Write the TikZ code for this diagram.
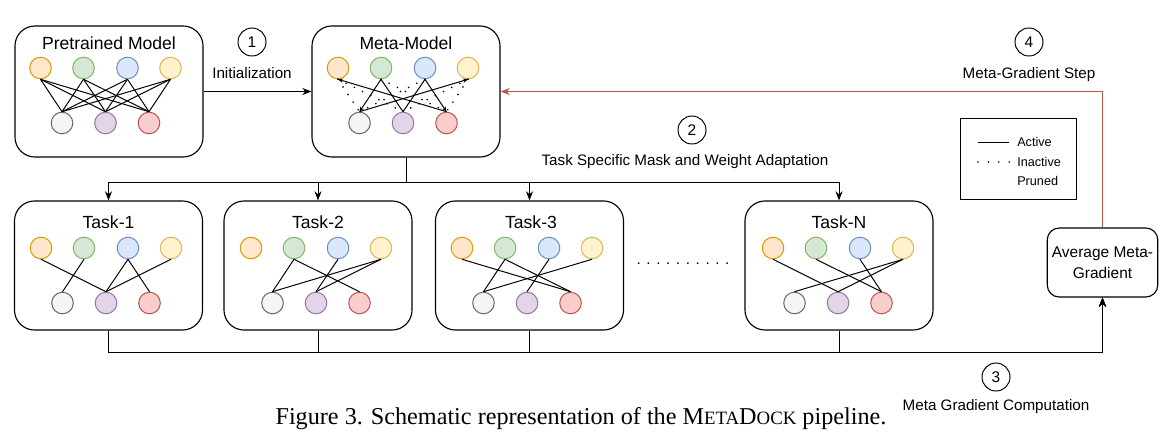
\documentclass[tikz,border=0pt]{standalone}
\usepackage{fontspec}
\setmainfont{Liberation Sans}
\newfontfamily\capfont{Liberation Serif}
\usetikzlibrary{arrows.meta}

\definecolor{OrangeFill}{HTML}{FFE6CC}\definecolor{OrangeLine}{HTML}{D79B00}
\definecolor{GreenFill}{HTML}{D5E8D4}\definecolor{GreenLine}{HTML}{82B366}
\definecolor{BlueFill}{HTML}{DAE8FC}\definecolor{BlueLine}{HTML}{6C8EBF}
\definecolor{YellowFill}{HTML}{FFF2CC}\definecolor{YellowLine}{HTML}{D6B656}
\definecolor{GreyFill}{HTML}{F5F5F5}\definecolor{GreyLine}{HTML}{666666}
\definecolor{PurpleFill}{HTML}{E1D5E7}\definecolor{PurpleLine}{HTML}{9673A6}
\definecolor{RedFill}{HTML}{F8CECC}\definecolor{RedLine}{HTML}{B85450}

\tikzset{
  >={Stealth[length=6.5pt,width=5pt]},
  model/.style={draw, rounded corners=0.5cm, line width=0.8pt, minimum width=4.7cm, minimum height=3.275cm},
  task/.style={model, minimum height=3.225cm},
  title/.style={font=\fontsize{12.5}{15}\selectfont},
  neuron/.style={circle, draw, line width=0.7pt, minimum size=0.54cm, inner sep=0pt},
  stepnum/.style={circle, draw, line width=0.7pt, minimum size=0.7cm, inner sep=0pt, font=\fontsize{11}{13}\selectfont},
  steplabel/.style={font=\fontsize{10.8}{13}\selectfont},
  legend/.style={anchor=west, inner sep=0pt, font=\fontsize{9}{11}\selectfont},
  link/.style={line width=0.7pt},
  pruned/.style={line width=1.3pt, dash pattern=on 0pt off 6.5pt, line cap=round},
  tip/.style={-{Stealth[length=3.5pt,width=3pt]}}
}

\newcommand{\Neurons}[3]{%
  \node (#1O) [neuron, fill=OrangeFill, draw=OrangeLine] at (#2-65,#3) {};
  \node (#1G) [neuron, fill=GreenFill, draw=GreenLine] at (#2-22,#3) {};
  \node (#1B) [neuron, fill=BlueFill, draw=BlueLine] at (#2+22,#3) {};
  \node (#1Y) [neuron, fill=YellowFill, draw=YellowLine] at (#2+65,#3) {};
  \node (#1W) [neuron, fill=GreyFill, draw=GreyLine] at (#2-43.5,#3+55) {};
  \node (#1P) [neuron, fill=PurpleFill, draw=PurpleLine] at (#2,#3+55) {};
  \node (#1R) [neuron, fill=RedFill, draw=RedLine] at (#2+43.5,#3+55) {};
}

\begin{document}
\begin{tikzpicture}[x=0.025cm, y=-0.025cm]
\useasboundingbox (0,0) rectangle (1170,446);

\node (Pretrained) [model] at (109,91.5) {};
\node (PretrainedTitle) [title] at (109,43) {Pretrained Model};
\Neurons{PM}{105.5}{68}
\foreach \a in {O,G,B,Y} \foreach \b in {W,P,R} \draw[link] (PM\a.south) -- (PM\b.north);

\node (Meta) [model] at (406,91.5) {};
\node (MetaTitle) [title] at (406,43) {Meta-Model};
\Neurons{MM}{403}{68}
\draw[link, tip] (MMR.north) -- (MMO.south);
\draw[link, tip] (MMG.south) -- (MMW.north);
\draw[link, tip] (MMW.north) -- (MMY.south);
\draw[link, tip] (MMB.south) -- (MMR.north);
\draw[link] (MMG.south) -- (MMP.north);
\draw[link] (MMB.south) -- (MMP.north);
\foreach \a/\b in {O/W,O/P,G/R,B/W,Y/P,Y/R} \draw[pruned] (MM\a.south) -- (MM\b.north);

\node (StepOne) [stepnum] at (252,42) {1};
\node (Init) [steplabel] at (252,73) {Initialization};
\draw[link, ->] (Pretrained) -- (Meta);

\node (TaskOne) [task] at (108.5,265.5) {};
\node (TaskOneTitle) [title] at (108.5,222) {Task-1};
\Neurons{TA}{106}{248}
\foreach \a/\b in {O/P,G/W,B/P,B/R,Y/P} \draw[link] (TA\a.south) -- (TA\b.north);

\node (TaskTwo) [task] at (318,265.5) {};
\node (TaskTwoTitle) [title] at (318,222) {Task-2};
\Neurons{TB}{316}{248}
\foreach \a/\b in {G/W,G/R,B/P,Y/W,Y/P} \draw[link] (TB\a.south) -- (TB\b.north);

\node (TaskThree) [task] at (529.5,265.5) {};
\node (TaskThreeTitle) [title] at (531,222) {Task-3};
\Neurons{TC}{527}{248}
\foreach \a/\b in {O/R,G/W,G/R,B/P,Y/W} \draw[link] (TC\a.south) -- (TC\b.north);

\node (More) [steplabel] at (683,264) {. . . . . . . . . .};

\node (TaskN) [task] at (839,265.5) {};
\node (TaskNTitle) [title] at (839,222) {Task-N};
\Neurons{TN}{838}{248}
\foreach \a/\b in {O/P,G/R,B/R,Y/W,Y/P} \draw[link] (TN\a.south) -- (TN\b.north);

\node (StepTwo) [stepnum] at (692,130) {2};
\node (Adapt) [steplabel] at (685,162) {Task Specific Mask and Weight Adaptation};
\foreach \t in {TaskOne,TaskTwo,TaskThree,TaskN} \draw[link, ->] (Meta.south) -- ++(0,25) -| (\t.north);

\node (Legend) [draw, line width=0.7pt, minimum width=2.9cm, minimum height=2cm] at (1018,159) {};
\node (LActive) [legend] at (1017,142) {Active};
\node (LInactive) [legend] at (1017,162) {Inactive};
\node (LPruned) [legend] at (1017,181) {Pruned};
\draw[link] ([xshift=-0.975cm]LActive.west) -- ([xshift=-0.2cm]LActive.west);
\draw[line width=1.2pt, dash pattern=on 0pt off 7.4pt, line cap=round] ([xshift=-0.975cm]LInactive.west) -- ([xshift=-0.18cm]LInactive.west);

\node (Avg) [draw, line width=0.8pt, rounded corners=0.3cm, align=center, minimum width=2.725cm, minimum height=1.725cm, font=\fontsize{11}{15}\selectfont] at (1102.5,262.5) {Average Meta-\\Gradient};
\foreach \t in {TaskOne,TaskTwo,TaskThree,TaskN} \draw[link, ->] (\t.south) -- ++(0,22) -| (Avg.south);

\node (StepThree) [stepnum] at (996,377) {3};
\node (Compute) [steplabel] at (996,407) {Meta Gradient Computation};

\node (StepFour) [stepnum] at (1029,42) {4};
\node (MetaStep) [steplabel] at (1029,75) {Meta-Gradient Step};
\draw[link, ->, draw=RedLine, -{Stealth[length=6.5pt,width=5pt,fill=RedLine]}] (Avg.north) |- (Meta.east);

\node (Caption) [font=\capfont\fontsize{17.2}{19}\selectfont] at (581,419) {Figure 3. Schematic representation of the M{\fontsize{13.4}{15}\selectfont ETA}D{\fontsize{13.4}{15}\selectfont OCK} pipeline.};
\end{tikzpicture}
\end{document}
